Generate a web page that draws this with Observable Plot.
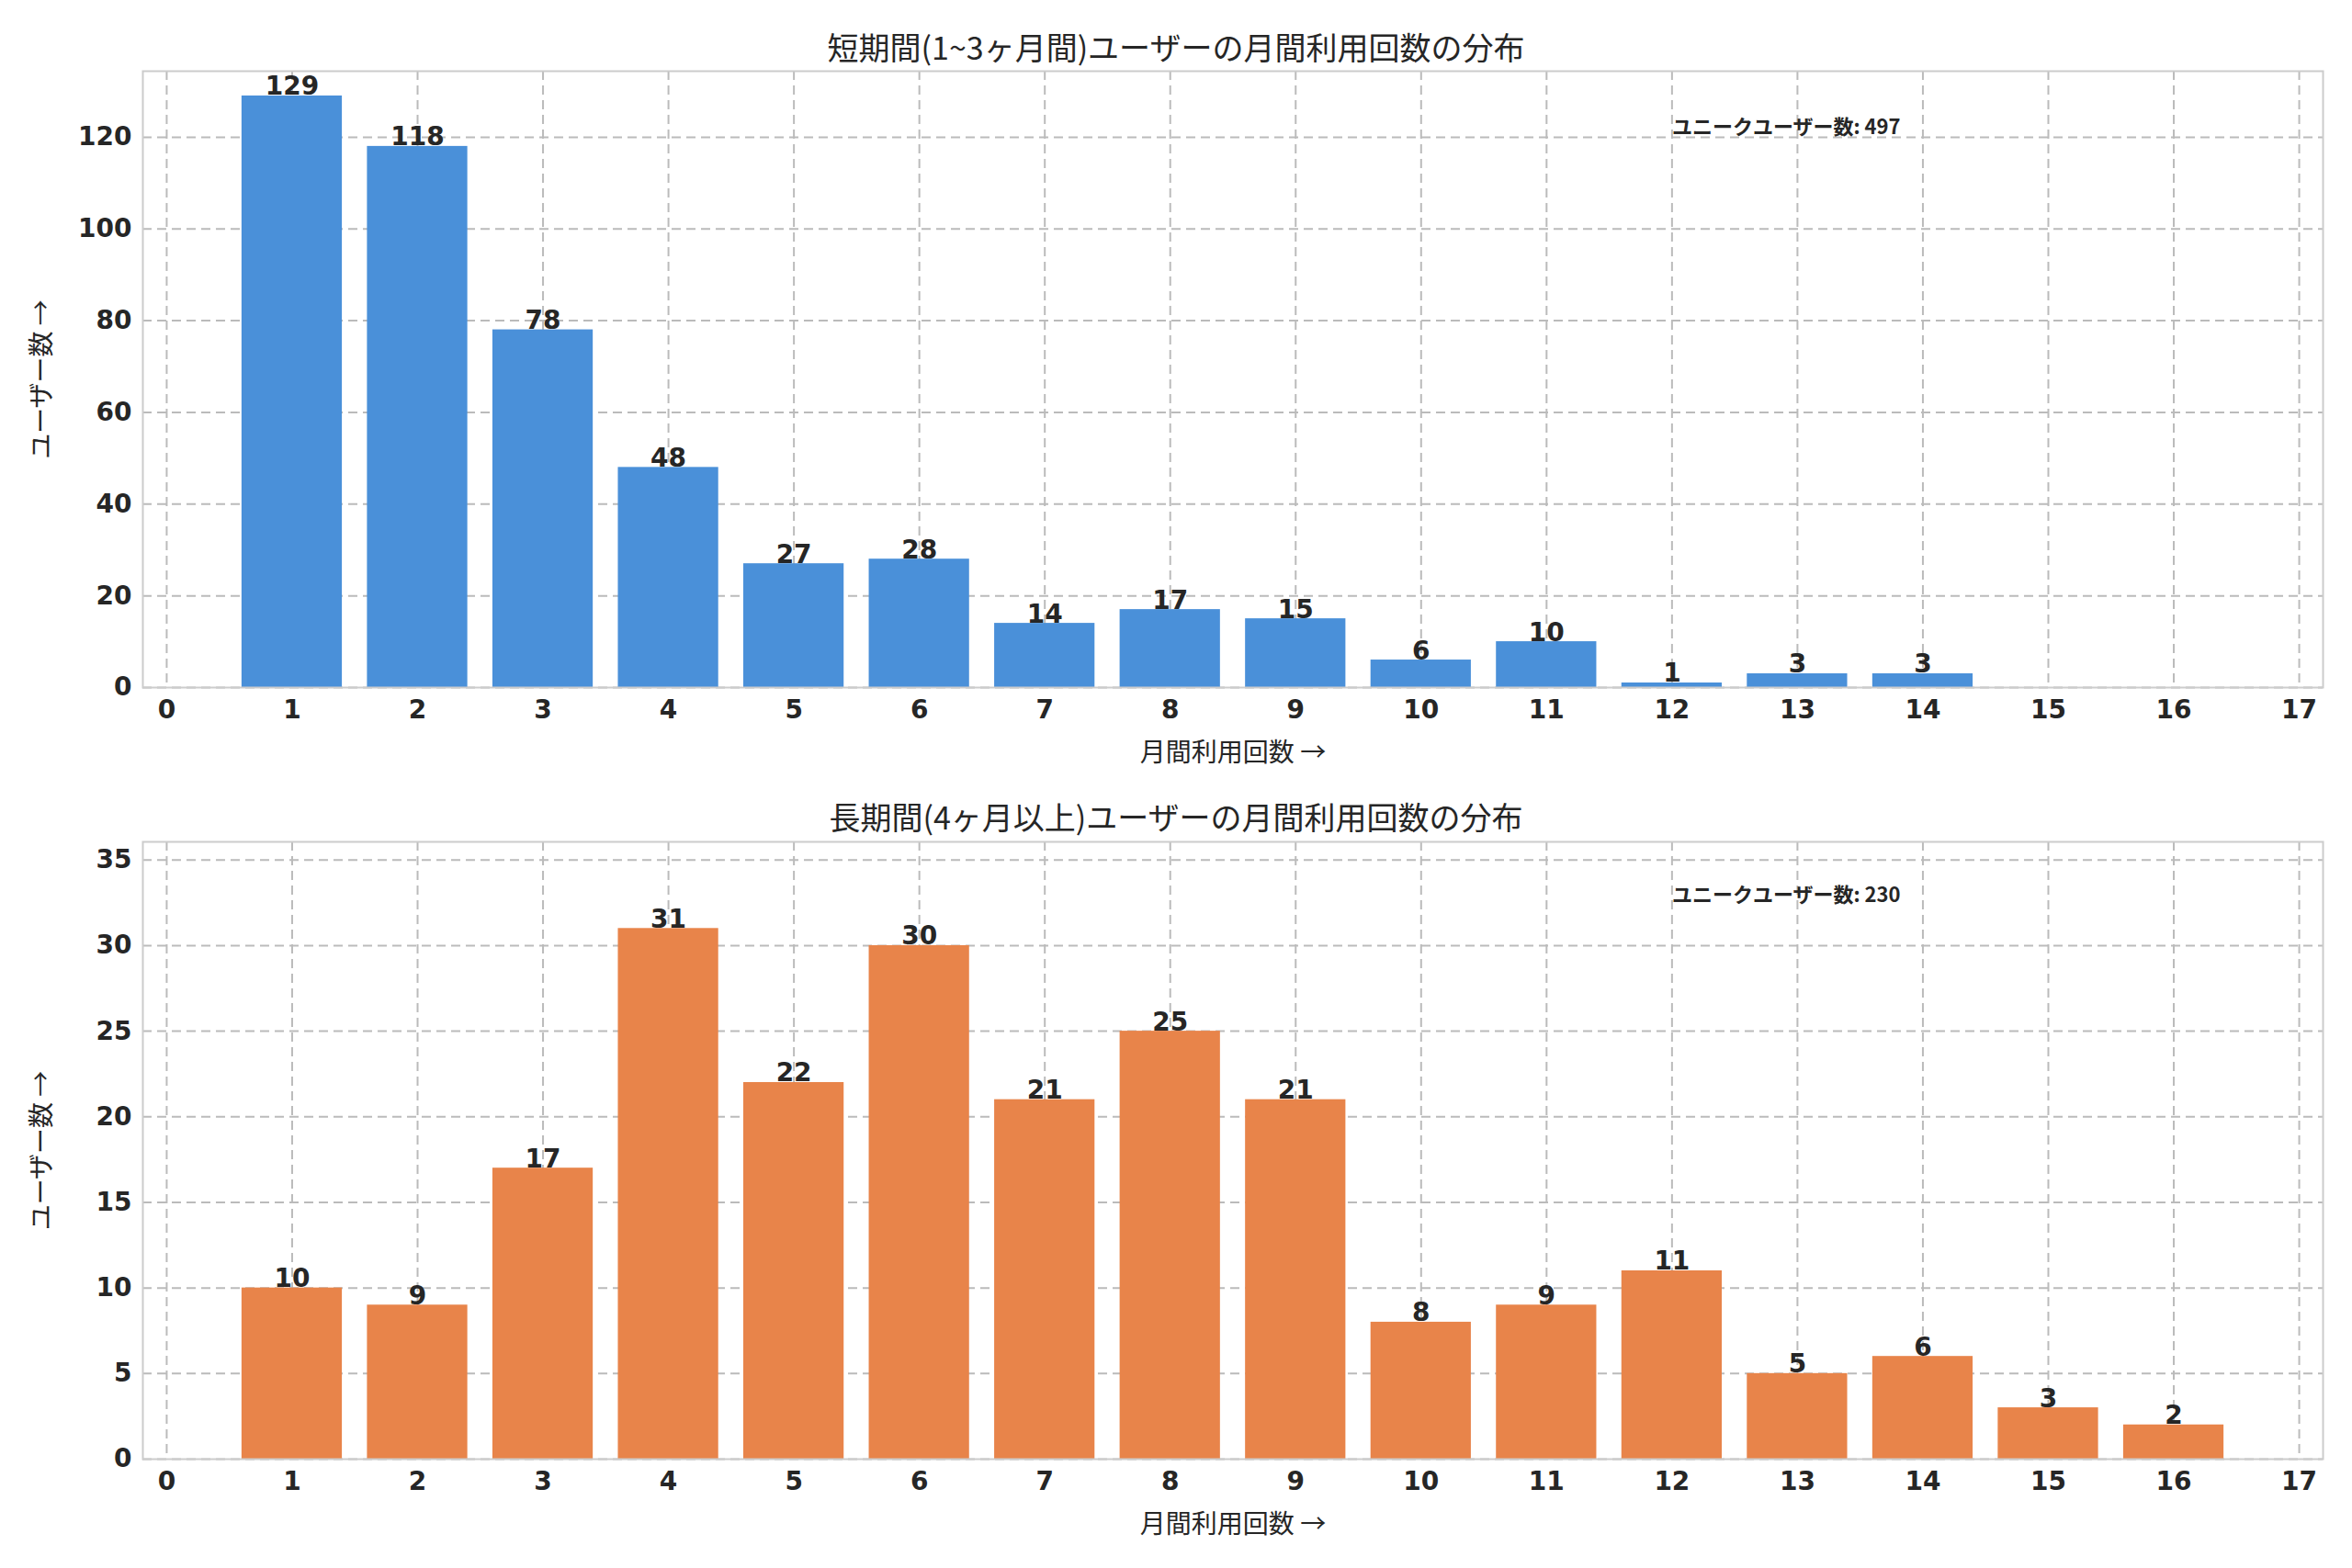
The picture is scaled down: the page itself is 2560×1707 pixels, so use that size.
<!DOCTYPE html><html><head><meta charset="utf-8">
<script src="https://cdn.jsdelivr.net/npm/d3@7"></script>
<script src="https://cdn.jsdelivr.net/npm/@observablehq/plot@0.6"></script>
<style>body{margin:0;background:#fff;font-family:"Noto Sans CJK JP","DejaVu Sans",sans-serif;}
.t{position:absolute;width:2560px;text-align:center;font-size:34px;color:#262626;}
.p{position:absolute;left:0;}
</style></head><body>
<div class="t" style="top:26px">短期間(1~3ヶ月間)ユーザーの月間利用回数の分布</div>
<div class="p" id="p1" style="top:70px"></div>
<div class="t" style="top:864px">長期間(4ヶ月以上)ユーザーの月間利用回数の分布</div>
<div class="p" id="p2" style="top:910px"></div>
<script>
const counts1=[1,2,3,4,5,6,7,8,9,10,11,12,13,14];
const values1=[129,118,78,48,27,28,14,17,15,6,10,1,3,3];
const counts2=[1,2,3,4,5,6,7,8,9,10,11,12,13,14,15,16];
const values2=[10,9,17,31,22,30,21,25,21,8,9,11,5,6,3,2];
const xTicks=d3.range(0,18);
const yTicks1=[0,20,40,60,80,100,120];
const yTicks2=[0,5,10,15,20,25,30,35];
const xLabel="月間利用回数", yLabel="ユーザー数", noteLabel="ユニークユーザー数";
function panel(id,xs,vs,color,ymax,yt,total,noteY,mt){
  const data=xs.map((x,i)=>({x,v:vs[i]}));
  const svg=Plot.plot({width:2560,height:770,marginLeft:155,marginRight:32,marginTop:mt,marginBottom:92,
    style:{fontSize:"28px",fontWeight:"bold",color:"#262626",fontFamily:"DejaVu Sans"},
    x:{domain:[-0.19,17.19],ticks:xTicks,tickFormat:d=>d,label:xLabel,labelAnchor:"center",labelOffset:80,tickSize:0,tickPadding:14},
    y:{domain:[0,ymax],ticks:yt,label:yLabel,labelAnchor:"center",labelOffset:120,tickSize:0,tickPadding:12},
    marks:[
      Plot.gridX(xTicks,{stroke:"#bbb",strokeOpacity:1,strokeDasharray:"10,6",strokeWidth:2}),
      Plot.gridY(yt,{stroke:"#bbb",strokeOpacity:1,strokeDasharray:"10,6",strokeWidth:2}),
      Plot.rectY(data,{x1:d=>d.x-0.4,x2:d=>d.x+0.4,y:"v",fill:color}),
      Plot.text(data,{x:"x",y:"v",text:d=>String(d.v),dy:-10,fontSize:28,fontWeight:"bold",fill:"#262626"}),
      Plot.text([{x:12,y:noteY}],{x:"x",y:"y",text:()=>noteLabel+": "+total,textAnchor:"start",fontSize:22,fontWeight:"bold",fill:"#262626",fontFamily:"Noto Sans CJK JP"}),
      Plot.frame({stroke:"#ccc",strokeWidth:2})
    ]});
  svg.querySelectorAll("[aria-label='x-axis label'] text, [aria-label='y-axis label'] text").forEach(t=>{t.style.fontWeight="normal";t.style.fontFamily="Noto Sans CJK JP";});
  document.getElementById(id).appendChild(svg);
}
panel("p1",counts1,values1,"#4a90d9",134.4,yTicks1,497,122,7);
panel("p2",counts2,values2,"#e8844a",36.06,yTicks2,230,32.9,6);
</script></body></html>
